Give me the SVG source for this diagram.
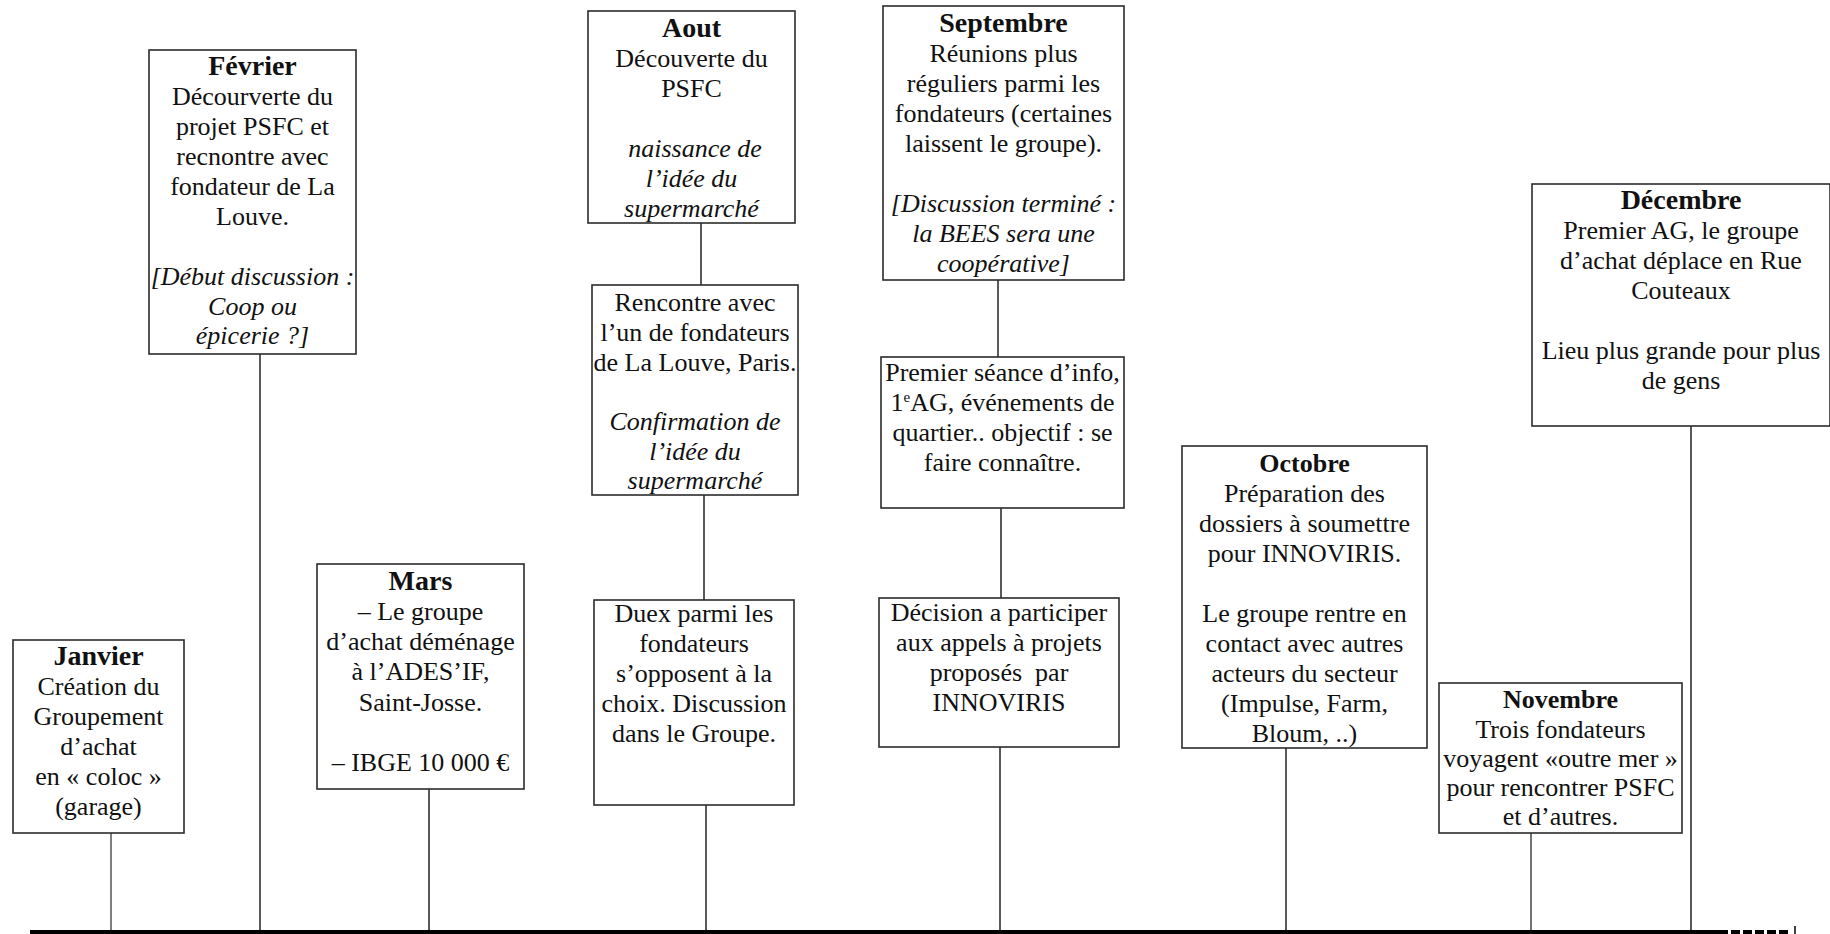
<svg xmlns="http://www.w3.org/2000/svg" width="1830" height="934" viewBox="0 0 1830 934">
  <style>
    .box { fill: #ffffff; stroke: #2b2b2b; stroke-width: 1.6; }
    .t { font-family: "Liberation Serif", "Times New Roman", serif; font-size: 26px; text-anchor: middle; fill: #111111; }
    .b { font-weight: bold; font-size: 28px; }
    .bs { font-weight: bold; }
    .i { font-style: italic; }
    .conn line { stroke: #222222; stroke-width: 1.5; }
    .sup { font-size: 15px; }
  </style>
  <rect x="0" y="0" width="1830" height="934" fill="#ffffff"/>

  <!-- timeline axis -->
  <g id="axis">
    <rect x="30" y="930" width="1698" height="6" fill="#000000"/>
    <line x1="1731" y1="932.5" x2="1791" y2="932.5" stroke="#000000" stroke-width="5" stroke-dasharray="9 3"/>
    <line x1="1795" y1="926" x2="1795" y2="934" stroke="#000000" stroke-width="1.5"/>
  </g>

  <!-- vertical connectors between boxes and axis -->
  <g id="connectors" class="conn">
    <line x1="111" y1="833" x2="111" y2="930" style="stroke:#555555"/>
    <line x1="260" y1="354" x2="260" y2="930"/>
    <line x1="429" y1="789" x2="429" y2="930"/>
    <line x1="701" y1="223" x2="701" y2="285"/>
    <line x1="704" y1="495" x2="704" y2="600"/>
    <line x1="706" y1="805" x2="706" y2="930"/>
    <line x1="998" y1="280" x2="998" y2="357"/>
    <line x1="1001" y1="508" x2="1001" y2="598"/>
    <line x1="1000" y1="747" x2="1000" y2="930"/>
    <line x1="1286" y1="748" x2="1286" y2="930"/>
    <line x1="1531" y1="833" x2="1531" y2="930" style="stroke:#444444"/>
    <line x1="1691" y1="426" x2="1691" y2="930"/>
  </g>

  <g id="janvier">
    <rect class="box" x="13" y="640" width="171" height="193"/>
    <text class="t b" x="98.5" y="665">Janvier</text>
    <text class="t" x="98.5" y="695">Création du</text>
    <text class="t" x="98.5" y="725">Groupement</text>
    <text class="t" x="98.5" y="755">d’achat</text>
    <text class="t" x="98.5" y="785">en « coloc »</text>
    <text class="t" x="98.5" y="815">(garage)</text>
  </g>

  <g id="fevrier">
    <rect class="box" x="149" y="50" width="207" height="304"/>
    <text class="t b" x="252.5" y="75">Février</text>
    <text class="t" x="252.5" y="105">Décourverte du</text>
    <text class="t" x="252.5" y="135">projet PSFC et</text>
    <text class="t" x="252.5" y="165">recnontre avec</text>
    <text class="t" x="252.5" y="195">fondateur de La</text>
    <text class="t" x="252.5" y="225">Louve.</text>
    <text class="t i" x="252.5" y="285">[Début discussion :</text>
    <text class="t i" x="252.5" y="315">Coop ou</text>
    <text class="t i" x="252.5" y="344">épicerie ?]</text>
  </g>

  <g id="mars">
    <rect class="box" x="317" y="564" width="207" height="225"/>
    <text class="t b" x="420.5" y="590">Mars</text>
    <text class="t" x="420.5" y="620">– Le groupe</text>
    <text class="t" x="420.5" y="650">d’achat déménage</text>
    <text class="t" x="420.5" y="680">à l’ADES’IF,</text>
    <text class="t" x="420.5" y="711">Saint-Josse.</text>
    <text class="t" x="420.5" y="771">– IBGE 10 000 €</text>
  </g>

  <g id="aout">
    <rect class="box" x="588" y="11" width="207" height="212"/>
    <text class="t b" x="691.5" y="37">Aout</text>
    <text class="t" x="691.5" y="67">Découverte du</text>
    <text class="t" x="691.5" y="97">PSFC</text>
    <text class="t i" x="695" y="157">naissance de</text>
    <text class="t i" x="691.5" y="187">l’idée du</text>
    <text class="t i" x="691.5" y="217">supermarché</text>
  </g>

  <g id="aout-rencontre">
    <rect class="box" x="592" y="285" width="206" height="210"/>
    <text class="t" x="695" y="311">Rencontre avec</text>
    <text class="t" x="695" y="341">l’un de fondateurs</text>
    <text class="t" x="695" y="371">de La Louve, Paris.</text>
    <text class="t i" x="695" y="430">Confirmation de</text>
    <text class="t i" x="695" y="460">l’idée du</text>
    <text class="t i" x="695" y="489">supermarché</text>
  </g>

  <g id="aout-discussion">
    <rect class="box" x="594" y="600" width="200" height="205"/>
    <text class="t" x="694" y="622">Duex parmi les</text>
    <text class="t" x="694" y="652">fondateurs</text>
    <text class="t" x="694" y="682">s’opposent à la</text>
    <text class="t" x="694" y="712">choix. Discussion</text>
    <text class="t" x="694" y="742">dans le Groupe.</text>
  </g>

  <g id="septembre">
    <rect class="box" x="883" y="6" width="241" height="274"/>
    <text class="t b" x="1003.5" y="32">Septembre</text>
    <text class="t" x="1003.5" y="62">Réunions plus</text>
    <text class="t" x="1003.5" y="92">réguliers parmi les</text>
    <text class="t" x="1003.5" y="122">fondateurs (certaines</text>
    <text class="t" x="1003.5" y="152">laissent le groupe).</text>
    <text class="t i" x="1003.5" y="212">[Discussion terminé :</text>
    <text class="t i" x="1003.5" y="242">la BEES sera une</text>
    <text class="t i" x="1003.5" y="272">coopérative]</text>
  </g>

  <g id="septembre-info">
    <rect class="box" x="881" y="357" width="243" height="151"/>
    <text class="t" x="1002.5" y="381">Premier séance d’info,</text>
    <text class="t" x="1002.5" y="411">1<tspan class="sup" dy="-9">e</tspan><tspan dy="9">AG, événements de</tspan></text>
    <text class="t" x="1002.5" y="441">quartier.. objectif : se</text>
    <text class="t" x="1002.5" y="471">faire connaître.</text>
  </g>

  <g id="septembre-innoviris">
    <rect class="box" x="879" y="598" width="240" height="149"/>
    <text class="t" x="999" y="621">Décision a participer</text>
    <text class="t" x="999" y="651">aux appels à projets</text>
    <text class="t" x="999" y="681" xml:space="preserve">proposés  par</text>
    <text class="t" x="999" y="711">INNOVIRIS</text>
  </g>

  <g id="octobre">
    <rect class="box" x="1182" y="446" width="245" height="302"/>
    <text class="t bs" x="1304.5" y="472">Octobre</text>
    <text class="t" x="1304.5" y="502">Préparation des</text>
    <text class="t" x="1304.5" y="532">dossiers à soumettre</text>
    <text class="t" x="1304.5" y="562">pour INNOVIRIS.</text>
    <text class="t" x="1304.5" y="622">Le groupe rentre en</text>
    <text class="t" x="1304.5" y="652">contact avec autres</text>
    <text class="t" x="1304.5" y="682">acteurs du secteur</text>
    <text class="t" x="1304.5" y="712">(Impulse, Farm,</text>
    <text class="t" x="1304.5" y="742">Bloum, ..)</text>
  </g>

  <g id="novembre">
    <rect class="box" x="1439" y="683" width="243" height="150"/>
    <text class="t bs" x="1560.5" y="708">Novembre</text>
    <text class="t" x="1560.5" y="738">Trois fondateurs</text>
    <text class="t" x="1560.5" y="767">voyagent «outre mer »</text>
    <text class="t" x="1560.5" y="796">pour rencontrer PSFC</text>
    <text class="t" x="1560.5" y="825">et d’autres.</text>
  </g>

  <g id="decembre">
    <rect class="box" x="1532" y="184" width="298" height="242"/>
    <text class="t b" x="1681" y="209">Décembre</text>
    <text class="t" x="1681" y="239">Premier AG, le groupe</text>
    <text class="t" x="1681" y="269">d’achat déplace en Rue</text>
    <text class="t" x="1681" y="299">Couteaux</text>
    <text class="t" x="1681" y="359">Lieu plus grande pour plus</text>
    <text class="t" x="1681" y="389">de gens</text>
  </g>
</svg>
